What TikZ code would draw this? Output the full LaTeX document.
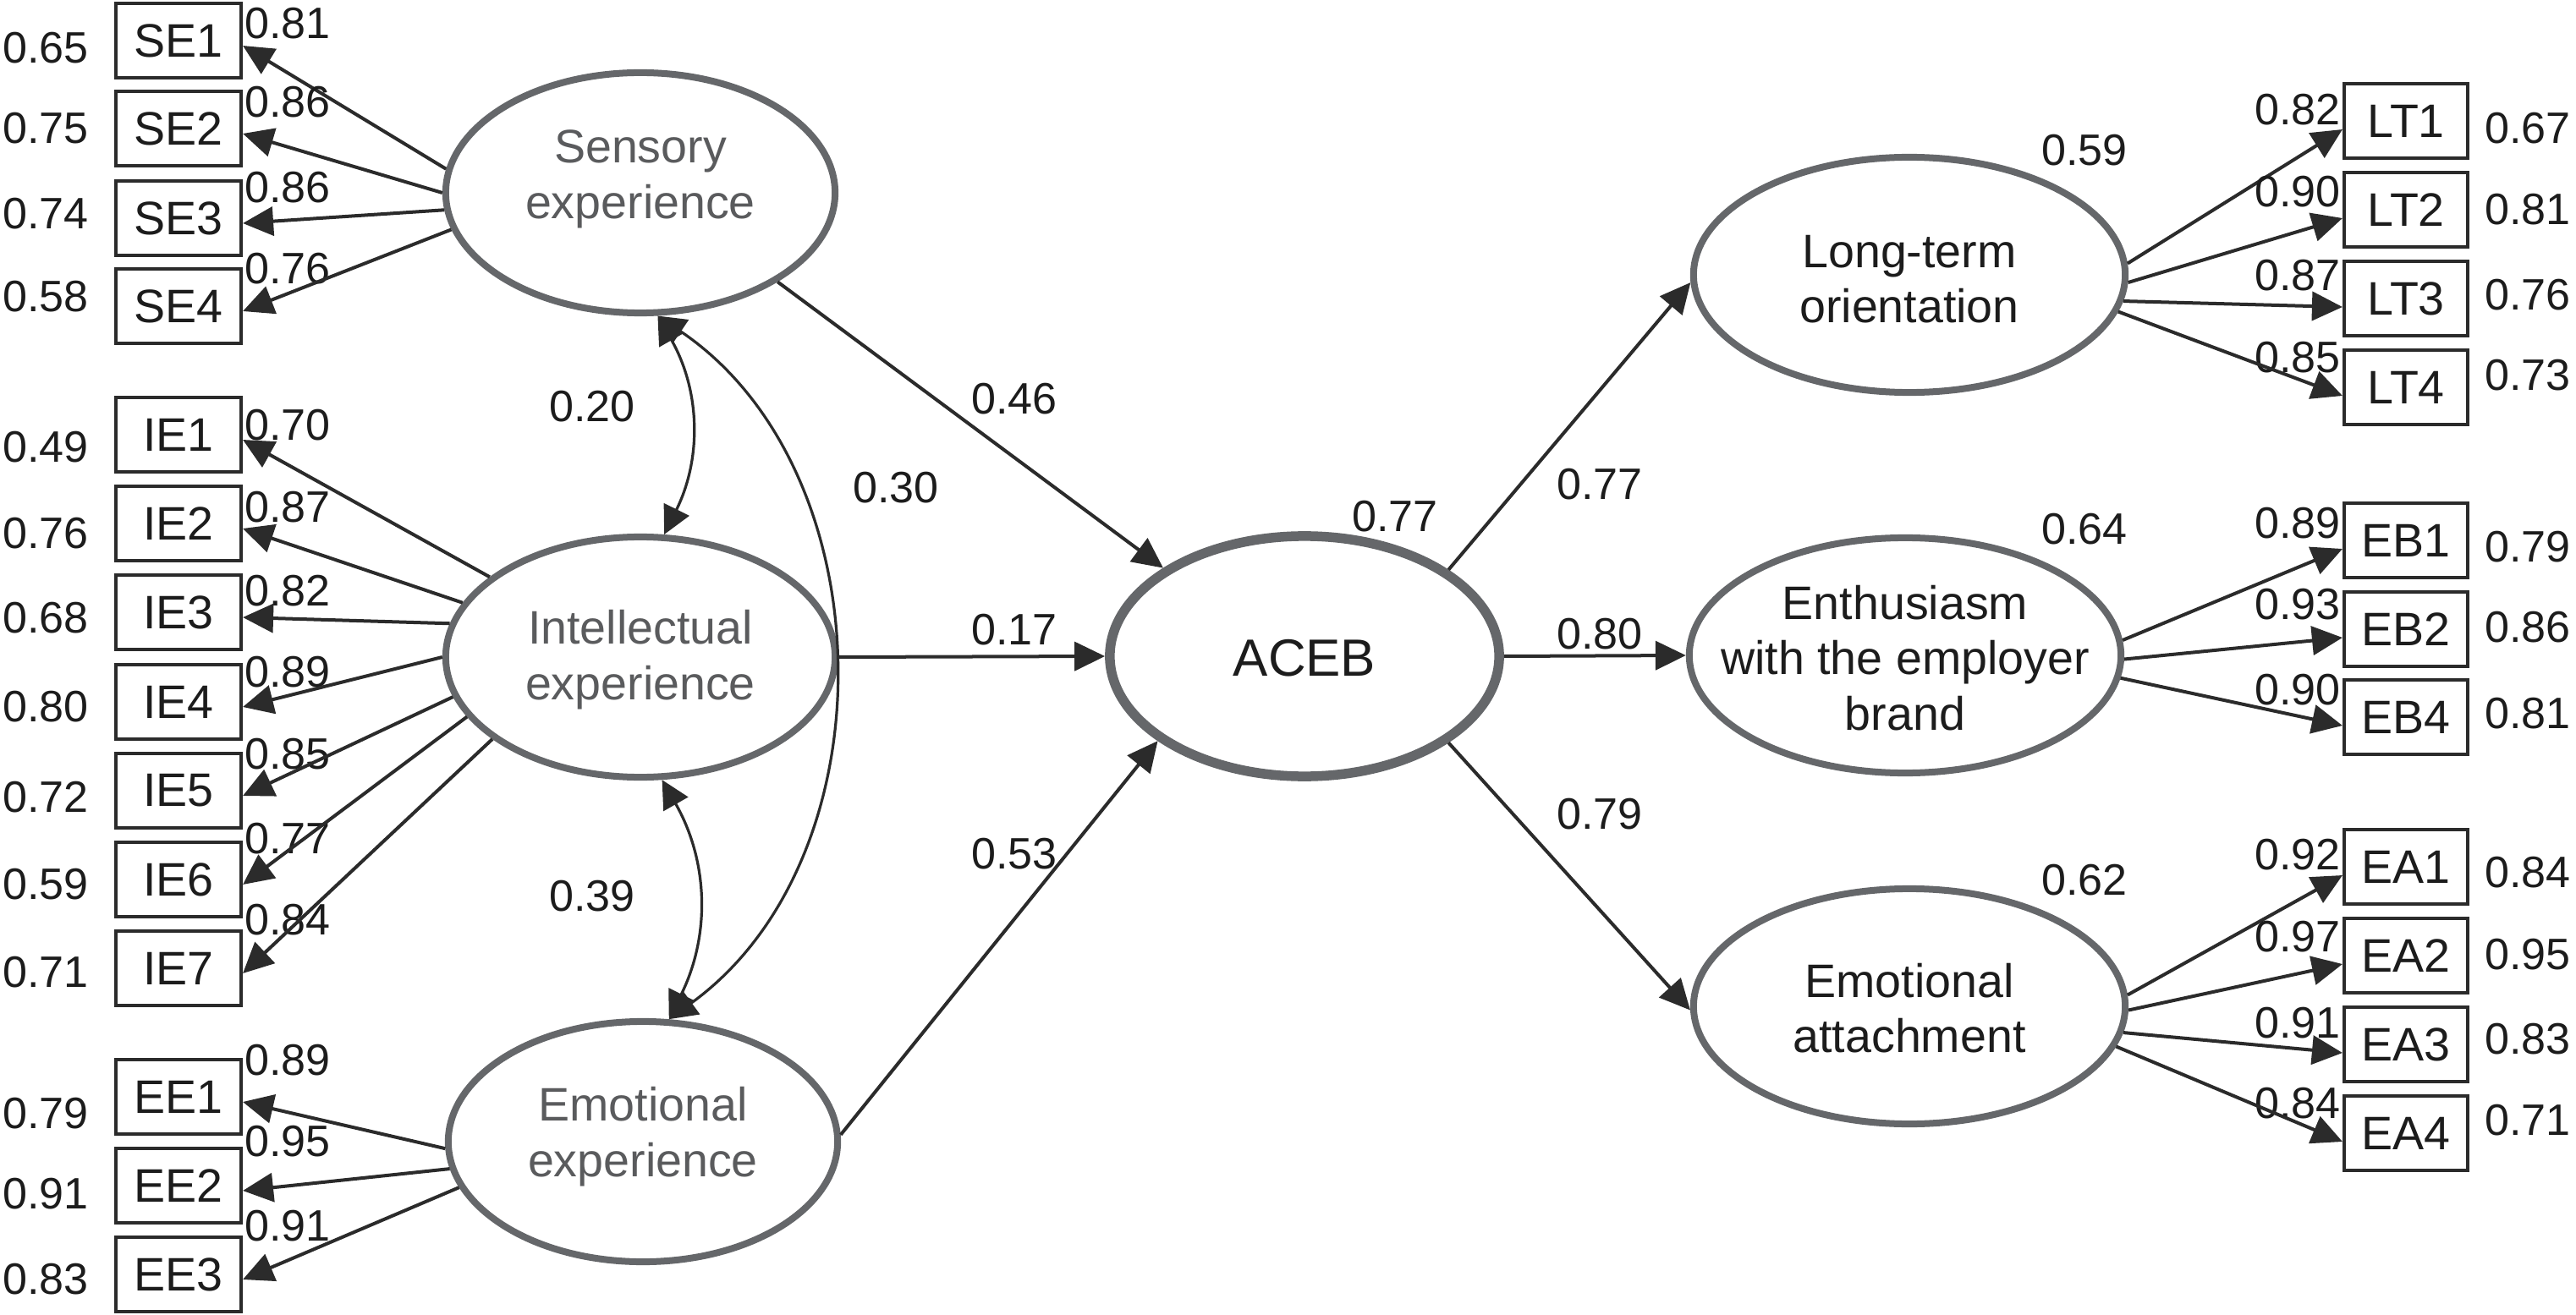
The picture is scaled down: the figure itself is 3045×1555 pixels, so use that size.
\documentclass[tikz,border=0pt]{standalone}
\usepackage{fontspec}
\setmainfont{Liberation Sans}
\usetikzlibrary{shapes.geometric,arrows.meta}
\definecolor{latgray}{HTML}{65676A}
\definecolor{linecol}{HTML}{2B2B2B}
\definecolor{ltext}{HTML}{5A5B5D}
\definecolor{txt}{HTML}{1C1C1C}
\begin{document}
\begin{tikzpicture}[x=0.01cm, y=-0.01cm,
  every node/.style={font=\fontsize{14.8}{18.8}\selectfont, text=txt},
  lat/.style={ellipse, draw=latgray, line width=0.08cm, minimum width=4.6cm, minimum height=2.84cm, inner sep=0pt},
  rlat/.style={lat, minimum width=5.1cm, minimum height=2.78cm},
  obs/.style={rectangle, draw=linecol, line width=0.04cm, minimum width=1.48cm, minimum height=0.88cm, inner sep=0pt, font=\fontsize{15.8}{19}\selectfont},
  conn/.style={draw=linecol, line width=0.04cm, -{Triangle[length=0.36cm,width=0.34cm]}},
  bidir/.style={draw=linecol, line width=0.032cm, {Triangle[length=0.33cm,width=0.33cm]}-{Triangle[length=0.33cm,width=0.33cm]}},
  num/.style={inner sep=0pt},
  ltxt/.style={align=center, text=ltext, inner sep=0pt, font=\fontsize{15.8}{18.8}\selectfont},
  rtxt/.style={align=center, inner sep=0pt, font=\fontsize{15.8}{18.6}\selectfont},
]
\useasboundingbox (0,0) rectangle (3045,1555);

% latent variables
\node[lat] (sens) at (757,228) {};
\node[ltxt] (sensT) at (757,212) {Sensory\\experience};
\node[lat] (intel) at (757,777) {};
\node[ltxt] (intelT) at (757,780) {Intellectual\\experience};
\node[lat] (emo) at (760,1350) {};
\node[ltxt] (emoT) at (760,1344) {Emotional\\experience};
\node[lat, line width=0.115cm] (aceb) at (1542,776) {};
\node[inner sep=0pt, font=\fontsize{17.6}{21}\selectfont] (acebT) at (1542,778) {ACEB};
\node[rlat] (lt) at (2257,325) {};
\node[rtxt] (ltT) at (2257,330) {Long-term\\orientation};
\node[rlat] (enth) at (2252,775) {};
\node[rtxt] (enthT) at (2252,778) {Enthusiasm\\with the employer\\brand};
\node[rlat] (ea) at (2257,1190) {};
\node[rtxt] (eaT) at (2257,1192) {Emotional\\attachment};

% left indicators
\foreach \n/\y/\e/\ey/\l/\ly/\a/\src in {
  SE1/48/0.65/57/0.81/28/173.5/sens,
  SE2/152/0.75/152/0.86/121/180/sens,
  SE3/258/0.74/253/0.86/222/185.7/sens,
  SE4/362/0.58/351/0.76/318/191.3/sens,
  IE1/514/0.49/529/0.70/503/152/intel,
  IE2/619/0.76/631/0.87/600/163/intel,
  IE3/724/0.68/731/0.82/699/170/intel,
  IE4/830/0.80/836/0.89/795/180/intel,
  IE5/935/0.72/943/0.85/892/192/intel,
  IE6/1040/0.59/1046/0.77/992/199/intel,
  IE7/1145/0.71/1150/0.84/1088/209/intel,
  EE1/1297/0.79/1317/0.89/1254/182/emo,
  EE2/1402/0.91/1412/0.95/1350/188.6/emo,
  EE3/1507/0.83/1513/0.91/1450/194/emo}{
  \node[obs] (\n) at (211,\y) {\n};
  \node[num] (err\n) at (54,\ey) {\e};
  \node[num] (ld\n) at (340,\ly) {\l};
  \draw[conn] (\src.\a) -- ([yshift=-0.06cm]\n.east);
}

% right indicators
\foreach \n/\y/\e/\ey/\l/\ly/\a/\src in {
  LT1/143/0.67/152/0.82/130/3.8/lt,
  LT2/248/0.81/248/0.90/227/-2.5/lt,
  LT3/353/0.76/349/0.87/326/-7.8/lt,
  LT4/458/0.73/444/0.85/423/-10.2/lt,
  EB1/639/0.79/647/0.89/619/4.4/enth,
  EB2/744/0.86/742/0.93/715/-1.8/enth,
  EB4/848/0.81/844/0.90/816/-6.2/enth,
  EA1/1025/0.84/1032/0.92/1011/3.4/ea,
  EA2/1130/0.95/1129/0.97/1108/-1.6/ea,
  EA3/1235/0.83/1229/0.91/1210/-7.6/ea,
  EA4/1340/0.71/1325/0.84/1305/-11.7/ea}{
  \node[obs, minimum width=1.46cm] (\n) at (2844,\y) {\n};
  \node[num] (err\n) at (2988,\ey) {\e};
  \node[num] (ld\n) at (2716,\ly) {\l};
  \draw[conn] (\src.\a) -- ([yshift=-0.1cm]\n.west);
}

% structural paths
\draw[conn] (sens.-33.2) -- (aceb.148.7);
\draw[conn] (intel.east) -- (aceb.west);
\draw[conn] (emo.2) -- (aceb.210.8);
\draw[conn] (aceb.31.7) -- (lt.182.3);
\draw[conn] (aceb.east) -- (enth.west);
\draw[conn] (aceb.-31.7) -- (ea.181);

% correlations
\draw[bidir] (sens.-82) to[bend left=28] (intel.79);
\draw[bidir] (intel.-80) to[bend left=28] (emo.78);
\draw[bidir] (sens.-82) to[bend left=55] (emo.78);

% path labels
\node[num] (p46) at (1199,472) {0.46};
\node[num] (p30) at (1059,577) {0.30};
\node[num] (p17) at (1199,745) {0.17};
\node[num] (p53) at (1199,1010) {0.53};
\node[num] (p77) at (1891,573) {0.77};
\node[num] (p80) at (1891,750) {0.80};
\node[num] (p79) at (1891,963) {0.79};
\node[num] (c20) at (700,481) {0.20};
\node[num] (c39) at (700,1060) {0.39};
\node[num] (r2aceb) at (1649,611) {0.77};
\node[num] (r2lt) at (2464,178) {0.59};
\node[num] (r2enth) at (2464,626) {0.64};
\node[num] (r2ea) at (2464,1041) {0.62};
\end{tikzpicture}
\end{document}
